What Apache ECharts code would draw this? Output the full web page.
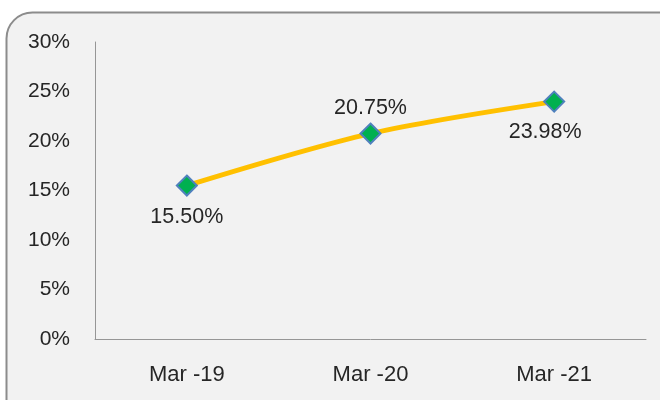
<!DOCTYPE html>
<html>
<head>
<meta charset="utf-8">
<script src="https://cdn.jsdelivr.net/npm/echarts@6/dist/echarts.min.js"></script>
<style>
html, body { margin: 0; padding: 0; background: #fff; }
#main { width: 660px; height: 400px; }
</style>
</head>
<body>
<div id="main"></div>
<script>
var categories = ['Mar -19', 'Mar -20', 'Mar -21'];
var values = [15.50, 20.75, 23.98];
var labelPos = ['bottom', 'top', 'bottom'];

var chart = echarts.init(document.getElementById('main'));
var textColor = '#262626';
var font = 'Liberation Sans';

var option = {
  backgroundColor: '#ffffff',
  animation: false,
  graphic: [{
    type: 'rect',
    z: -10,
    shape: { x: 6.5, y: 12.5, width: 700, height: 450, r: 26 },
    style: { fill: '#f2f2f2', stroke: '#8c8c8c', lineWidth: 2 }
  }],
  grid: { left: 95, right: 14, top: 42, bottom: 61 },
  xAxis: {
    type: 'category',
    data: categories,
    boundaryGap: true,
    axisLine: { lineStyle: { color: '#969696', width: 1 } },
    axisTick: { show: false },
    axisLabel: { color: textColor, fontFamily: font, fontSize: 22, margin: 25 }
  },
  yAxis: {
    type: 'value',
    min: 0,
    max: 30,
    interval: 5,
    splitLine: { show: false },
    axisLine: { show: true, lineStyle: { color: '#969696', width: 1 } },
    axisTick: { show: false },
    axisLabel: {
      color: textColor, fontFamily: font, fontSize: 21, margin: 25,
      formatter: function (v) { return v + '%'; }
    }
  },
  series: [{
    type: 'line',
    data: values.map(function (v, i) {
      return {
        value: v,
        label: {
          position: labelPos[i],
          distance: [10, 3, 8][i],
          offset: i === 2 ? [-9, 0] : [0, 0]
        }
      };
    }),
    smooth: 0.3,
    lineStyle: { color: '#FFC000', width: 5 },
    symbol: 'diamond',
    symbolSize: 20,
    itemStyle: { color: '#00B050', borderColor: '#4F81BD', borderWidth: 2 },
    label: {
      show: true,
      color: textColor,
      fontFamily: font,
      fontSize: 21.5,
      formatter: function (p) { return p.value.toFixed(2) + '%'; }
    }
  }]
};
chart.setOption(option);
window.onresize = function () { chart.resize(); };
</script>
</body>
</html>
